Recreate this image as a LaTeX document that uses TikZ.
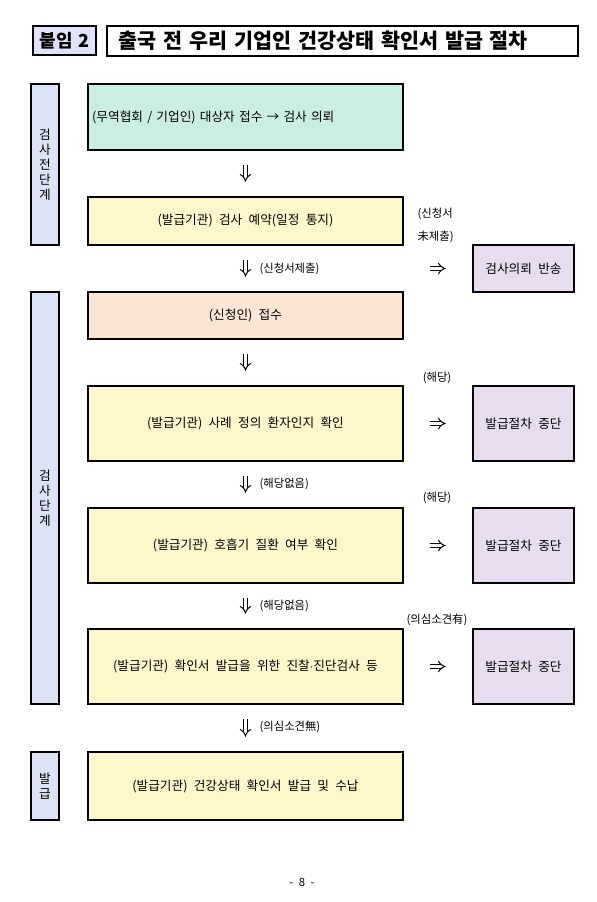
\documentclass[tikz,border=0pt]{standalone}
\usepackage{fontspec}
\setmainfont{Noto Sans CJK KR}[WordSpace=2.2]
\usepackage{xcolor}
\usepackage{tikz}
\usetikzlibrary{arrows.meta, positioning}

\definecolor{mintbg}{RGB}{204,238,224}
\definecolor{yellowbg}{RGB}{255,247,204}
\definecolor{peachbg}{RGB}{253,229,213}
\definecolor{stopbg}{RGB}{232,221,240}
\definecolor{sidebg}{RGB}{221,227,245}
\definecolor{tagbg}{RGB}{226,226,250}

\begin{document}
\begin{tikzpicture}[
  x=0.75pt, y=-0.75pt,
  box/.style={rectangle, draw=black, line width=0.8pt, minimum width=236.25pt, font=\fontsize{9.5}{12}\selectfont, inner sep=3pt},
  stopbox/.style={rectangle, draw=black, line width=0.8pt, fill=stopbg, minimum width=75.75pt, font=\fontsize{9.5}{12}\selectfont},
  side/.style={rectangle, draw=black, line width=0.8pt, fill=sidebg, minimum width=21pt, align=center, font=\fontsize{9.5}{11.25}\selectfont},
  note/.style={font=\fontsize{8.5}{10}\selectfont, inner sep=1pt},
  darr/.style={double, double distance=2.25pt, line width=0.75pt, -{Implies}, shorten <=11pt, shorten >=11pt},
  rarr/.style={double, double distance=2.25pt, line width=0.75pt, -{Implies}, shorten <=19.5pt, shorten >=20pt}
]
  \useasboundingbox (0,0) rectangle (596,902);

  % title
  \node[rectangle, draw=black, line width=1pt, fill=tagbg, minimum width=47.25pt, minimum height=21.75pt, font=\fontsize{13.5}{15}\selectfont\bfseries] (tag) at (64.5,40.5) {붙임\hspace{4pt}2};
  \node[rectangle, draw=black, line width=0.8pt, minimum width=353.25pt, minimum height=22.5pt, text width=336pt, inner xsep=8.25pt, align=left, font=\fontsize{15.5}{17}\selectfont\bfseries] (title) at (342.5,41) {출국 전 우리 기업인 건강상태 확인서 발급 절차};

  % stage labels
  \node[side, minimum height=120.75pt] (pre) at (45,164.5) {검\\사\\전\\단\\계};
  \node[side, minimum height=309pt] (exam) at (45,498) {검\\사\\단\\계};
  \node[side, minimum height=51pt] (issue) at (45,786) {발\\급};

  % main flow
  \node[box, fill=mintbg, minimum height=49.5pt, text width=230pt, align=left] (b1) at (245.5,117) {(무역협회 / 기업인) 대상자 접수 → 검사 의뢰};
  \node[box, fill=yellowbg, minimum height=36pt] (b2) at (245.5,221) {(발급기관) 검사 예약(일정 통지)};
  \node[box, fill=peachbg, minimum height=35.25pt] (b3) at (245.5,315.5) {(신청인) 접수};
  \node[box, fill=yellowbg, minimum height=56.25pt] (b4) at (245.5,423.5) {(발급기관) 사례 정의 환자인지 확인};
  \node[box, fill=yellowbg, minimum height=56.25pt] (b5) at (245.5,545.5) {(발급기관) 호흡기 질환 여부 확인};
  \node[box, fill=yellowbg, minimum height=56.25pt] (b6) at (245.5,666.5) {(발급기관) 확인서 발급을 위한 진찰$\cdot$진단검사 등};
  \node[box, fill=yellowbg, minimum height=51pt] (b7) at (245.5,786) {(발급기관) 건강상태 확인서 발급 및 수납};

  % side outcomes
  \node[stopbox, minimum height=35.25pt] (ret) at (523.5,268.5) {검사의뢰 반송};
  \node[stopbox, minimum height=56.25pt] (stop1) at (523.5,423.5) {발급절차 중단};
  \node[stopbox, minimum height=56.25pt] (stop2) at (523.5,545.5) {발급절차 중단};
  \node[stopbox, minimum height=56.25pt] (stop3) at (523.5,666.5) {발급절차 중단};
  \coordinate (nosub) at (b2.east |- ret.west);

  \draw[darr] (b1) -- (b2);
  \draw[darr] (b2) -- (b3);
  \draw[darr] (b3) -- (b4);
  \draw[darr] (b4) -- (b5);
  \draw[darr] (b5) -- (b6);
  \draw[darr] (b6) -- (b7);

  \draw[rarr] (nosub) -- (ret.west);
  \draw[rarr] (b4.east) -- (stop1.west);
  \draw[rarr] (b5.east) -- (stop2.west);
  \draw[rarr] (b6.east) -- (stop3.west);

  % labels
  \node[note, anchor=west, align=left, font=\fontsize{8.5}{17}\selectfont] (nosubl) at (416,225.5) {(신청서\\未제출)};
  \node[note, anchor=west] (subl) at (258,269) {(신청서제출)};
  \node[note] (yes1) at (437,378) {(해당)};
  \node[note, anchor=west] (no1) at (258,484) {(해당없음)};
  \node[note] (yes2) at (437,498) {(해당)};
  \node[note, anchor=west] (no2) at (258,606) {(해당없음)};
  \node[note] (yes3) at (437,620) {(의심소견有)};
  \node[note, anchor=west] (no3) at (258,727) {(의심소견無)};

  \node[note] (page) at (302,882) {- 8 -};
\end{tikzpicture}
\end{document}
